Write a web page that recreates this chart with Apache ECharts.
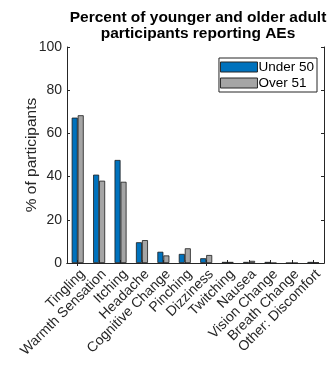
<!DOCTYPE html>
<html>
<head>
<meta charset="utf-8">
<script src="https://cdn.jsdelivr.net/npm/echarts@6/dist/echarts.min.js"></script>
<style>
html,body{margin:0;padding:0;background:#fff;}
#chart{width:332px;height:366px;}
</style>
</head>
<body>
<div id="chart"></div>
<script>
// Adverse-event categories and share of participants in each age group
const categories = ['Tingling', 'Warmth Sensation', 'Itching', 'Headache', 'Cognitive Change',
  'Pinching', 'Dizziness', 'Twitching', 'Nausea', 'Vision Change', 'Breath Change', 'Other: Discomfort'];
const under50 = [67.3, 40.9, 47.7, 9.6, 5.2, 4.2, 2.2, 0.5, 0.5, 0.5, 0, 0.5];
const over51  = [68.4, 38.1, 37.6, 10.6, 3.5, 6.8, 3.7, 0.5, 1.0, 0, 0, 0.3];
const yTicks = [0, 20, 40, 60, 80, 100];

const font = 'Arial, "Liberation Sans", Helvetica, sans-serif';
const axisLine = { show: true, lineStyle: { color: '#262626', width: 1 } };
const tickIn = { show: true, inside: true, length: 3, lineStyle: { color: '#262626' } };

const chart = echarts.init(document.getElementById('chart'), null, { renderer: 'canvas' });
chart.setOption({
  animation: false,
  backgroundColor: '#fff',
  title: {
    text: 'Percent of younger and older adult\nparticipants reporting AEs',
    left: 193, textAlign: 'center', top: 5,
    textStyle: { fontFamily: font, fontSize: 15.5, fontWeight: 'bold', color: '#000', lineHeight: 16 }
  },
  legend: {
    right: 15, top: 58, orient: 'vertical', icon: 'rect',
    itemWidth: 37, itemHeight: 10, itemGap: 2,
    padding: [2, 3, 2, 1],
    borderColor: '#262626', borderWidth: 1, backgroundColor: '#fff',
    itemStyle: { borderColor: '#262626', borderWidth: 1 },
    textStyle: { fontFamily: font, fontSize: 13.5, lineHeight: 13, color: '#000', padding: [0, 0, 0, -4] },
    data: ['Under 50', 'Over 51']
  },
  grid: { left: 67, right: 8, top: 47, bottom: 103 },
  xAxis: [{
    type: 'category', data: categories,
    axisLine: axisLine, axisTick: Object.assign({ alignWithLabel: true }, tickIn),
    axisLabel: { rotate: 45, interval: 0, fontFamily: font, fontSize: 14, color: '#262626',
      margin: 4, align: 'right', verticalAlign: 'top' }
  }, {
    type: 'category', data: categories, position: 'top',
    axisLine: axisLine, axisTick: Object.assign({ alignWithLabel: true }, tickIn),
    axisLabel: { show: false }
  }],
  yAxis: [{
    type: 'value', min: yTicks[0], max: yTicks[yTicks.length - 1], interval: 20,
    name: '% of participants', nameLocation: 'middle', nameGap: 27, nameMoveOverlap: false,
    nameTextStyle: { fontFamily: font, fontSize: 15.5, color: '#262626' },
    axisLine: axisLine, axisTick: tickIn, splitLine: { show: false },
    axisLabel: { fontFamily: font, fontSize: 14, color: '#262626', margin: 5 }
  }, {
    type: 'value', min: 0, max: 100, interval: 20, position: 'right',
    axisLine: axisLine, axisTick: tickIn, splitLine: { show: false },
    axisLabel: { show: false }
  }],
  series: [{
    name: 'Under 50', type: 'bar', data: under50, barWidth: 6, barGap: '0%',
    itemStyle: { color: '#0072BD', borderColor: '#1a1a1a', borderWidth: 0.8 }
  }, {
    name: 'Over 51', type: 'bar', data: over51, barWidth: 6, barGap: '0%',
    itemStyle: { color: '#A5A5A5', borderColor: '#1a1a1a', borderWidth: 0.8 }
  }]
});
</script>
</body>
</html>
